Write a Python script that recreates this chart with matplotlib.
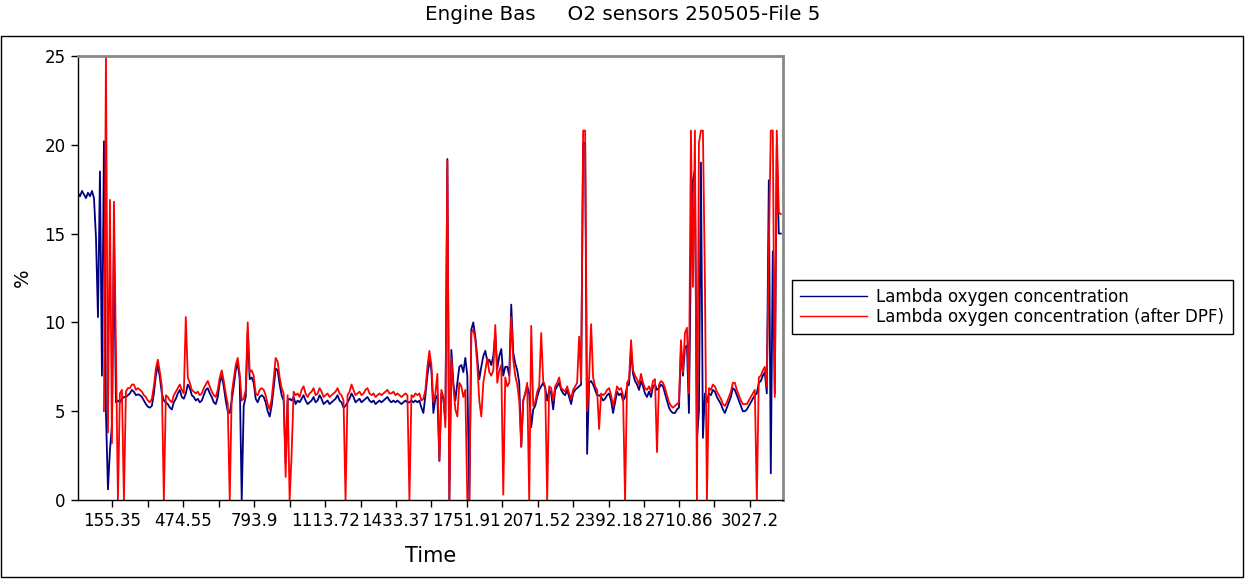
import numpy as np
import matplotlib
matplotlib.use("Agg")
import matplotlib.pyplot as plt
from matplotlib.patches import Rectangle

nan = np.nan

# one sample every 9 s
SAMPLE_PERIOD = 9.0

# Lambda oxygen concentration [%]
lambda_o2 = [
    17.3, 17.1, 17.4, 17.2, 17.0, 17.3, 17.1, 17.4, 17.0, 14.8,
    10.3, 18.5, 7.0, 20.2, 4.9, 0.6, 2.8, 4.2, 14.9, 5.5,
    5.6, 5.5, 5.7, 5.8, 5.8, 5.9, 6.0, 6.2, 6.1, 5.9,
    5.95, 5.9, 5.8, 5.6, 5.4, 5.25, 5.2, 5.3, 6.0, 7.0,
    7.6, 6.9, 6.0, 5.6, 5.5, 5.4, 5.2, 5.1, 5.5, 5.7,
    6.0, 6.2, 5.8, 5.7, 6.0, 6.5, 6.3, 5.9, 5.8, 5.6,
    5.7, 5.5, 5.6, 5.9, 6.2, 6.3, 6.0, 5.8, 5.5, 5.4,
    5.8, 6.6, 7.0, 6.4, 5.6, 5.0, 4.9, 5.6, 6.4, 7.3,
    7.7, 6.8, 0.0, 5.3, 5.8, 9.5, 6.8, 6.9, 6.6, 5.7,
    5.5, 5.8, 5.9, 5.8, 5.5, 5.0, 4.7, 5.3, 6.3, 7.4,
    7.3, 6.5, 5.9, 5.6, 2.1, 5.6, 5.7, 5.6, 5.8, 5.4,
    5.6, 5.5, 5.7, 5.9, 5.6, 5.4, 5.5, 5.6, 5.8, 5.5,
    5.6, 5.9, 5.7, 5.4, 5.5, 5.6, 5.4, 5.5, 5.6, 5.7,
    5.9, 5.6, 5.5, 5.2, 5.3, 5.5, 5.7, 6.0, 5.8, 5.5,
    5.6, 5.7, 5.5, 5.6, 5.7, 5.8, 5.6, 5.5, 5.6, 5.4,
    5.5, 5.6, 5.5, 5.6, 5.7, 5.8, 5.6, 5.5, 5.6, 5.5,
    5.6, 5.5, 5.4, 5.5, 5.6, 5.5, 5.5, 5.6, 5.5, 5.6,
    5.5, 5.6, 5.2, 4.9, 5.9, 7.0, 7.9, 7.3, 4.9, 5.7,
    5.9, 2.2, 6.0, 5.7, 4.5, 19.2, 0.0, 8.45, 6.6, 5.6,
    6.6, 7.5, 7.6, 7.2, 8.0, 7.0, 0.0, 9.6, 10.0, 9.2,
    8.0, 6.8, 7.5, 8.1, 8.4, 7.8, 7.9, 7.6, 8.1, 9.4,
    7.4, 8.1, 8.5, 7.0, 7.5, 7.5, 7.0, 11.0, 8.3, 7.7,
    7.3, 6.6, 3.0, 5.6, 6.0, 6.4, 6.0, 4.1, 5.1, 5.3,
    5.8, 6.2, 6.4, 6.6, 6.3, 5.6, 6.2, 6.0, 5.1, 6.2,
    6.4, 6.6, 6.2, 6.0, 5.9, 6.2, 5.8, 5.4, 6.0, 6.2,
    6.3, 6.4, 6.5, 20.1, 20.1, 2.6, 6.6, 6.7, 6.5, 6.2,
    5.9, 5.9, 5.8, 5.6, 5.7, 5.9, 6.0, 5.6, 4.9, 5.5,
    6.1, 5.9, 6.0, 5.6, 5.8, 6.4, 6.5, 8.5, 7.1, 6.7,
    6.5, 6.2, 6.7, 6.4, 6.0, 5.8, 6.1, 5.8, 6.4, 6.5,
    6.2, 6.3, 6.5, 6.4, 6.0, 5.6, 5.2, 5.0, 4.9, 4.9,
    5.1, 5.2, 8.5, 7.0, 8.6, 8.7, 4.9, 14.0, 18.0, 18.6,
    3.4, 5.0, 19.0, 3.5, 6.0, 5.5, 6.0, 5.9, 6.2, 6.1,
    5.8, 5.6, 5.4, 5.1, 4.9, 5.2, 5.5, 5.8, 6.3, 6.2,
    5.9, 5.6, 5.3, 5.0, 5.0, 5.1, 5.3, 5.5, 5.7, 5.9,
    6.0, 6.6, 6.7, 7.0, 7.2, 6.0, 18.0, 1.5, 14.0, 6.0,
    20.0, 15.0, 15.0,
]

# Lambda oxygen concentration after DPF [%]
lambda_o2_dpf = [
    nan, nan, nan, nan, nan, nan, nan, nan, nan, nan,
    nan, nan, nan, 5.0, 25.0, 3.8, 16.9, 3.2, 16.8, 8.6,
    0.0, 6.0, 6.2, 0.0, 6.1, 6.3, 6.3, 6.5, 6.5, 6.2,
    6.3, 6.2, 6.1, 5.9, 5.8, 5.6, 5.5, 5.7, 6.4, 7.4,
    7.9, 7.2, 6.4, 0.0, 5.9, 5.8, 5.6, 5.5, 5.9, 6.1,
    6.3, 6.5, 6.2, 6.0, 10.3, 6.9, 6.6, 6.2, 6.1, 6.0,
    6.1, 5.9, 6.0, 6.3, 6.5, 6.7, 6.4, 6.1, 5.9, 5.8,
    6.2, 6.9, 7.3, 6.7, 6.0, 5.4, 0.0, 6.0, 6.8, 7.6,
    8.0, 7.1, 5.6, 5.7, 6.2, 10.0, 7.2, 7.3, 7.0, 6.0,
    5.9, 6.2, 6.3, 6.2, 5.9, 5.4, 5.1, 5.7, 6.8, 8.0,
    7.8, 6.9, 6.3, 6.0, 1.3, 5.9, 0.0, 2.6, 6.1, 5.9,
    6.0, 5.8, 6.2, 6.4, 6.0, 5.8, 6.0, 6.1, 6.3, 5.9,
    6.0, 6.3, 6.1, 5.8, 5.9, 6.0, 5.8, 5.9, 6.0, 6.1,
    6.3, 6.0, 5.9, 5.6, 0.0, 5.9, 6.1, 6.5, 6.2, 5.9,
    6.0, 6.1, 5.9, 6.0, 6.2, 6.3, 6.0, 5.9, 6.0, 5.8,
    5.9, 6.0, 5.9, 6.0, 6.1, 6.2, 6.0, 6.0, 6.1, 5.9,
    6.0, 5.9, 5.8, 5.9, 6.0, 5.9, 0.0, 5.9, 5.8, 6.0,
    5.9, 6.0, 5.6, 5.7, 6.2, 7.5, 8.4, 7.6, 5.5, 6.0,
    7.1, 2.2, 6.2, 5.8, 4.1, 19.1, 0.0, 8.0, 6.4, 5.1,
    4.7, 6.6, 6.4, 5.8, 6.2, 0.0, 0.0, 9.4, 9.6, 9.0,
    7.6, 5.6, 4.7, 6.6, 7.3, 8.0, 7.2, 7.0, 7.3, 9.85,
    6.6, 7.3, 7.6, 0.3, 6.9, 6.4, 6.6, 10.3, 7.9, 7.0,
    6.5, 5.6, 3.0, 5.6, 6.0, 6.6, 0.0, 9.8, 5.3, 5.5,
    6.1, 6.4, 9.4, 6.7, 6.4, 0.0, 6.4, 6.3, 5.6, 6.4,
    6.6, 6.9, 6.3, 6.2, 6.1, 6.4, 6.0, 5.7, 6.2, 6.4,
    6.6, 9.2, 6.7, 20.8, 20.8, 5.0, 6.9, 9.9, 6.9, 6.4,
    6.2, 4.0, 6.0, 5.9, 6.0, 6.2, 6.3, 5.9, 5.3, 5.8,
    6.4, 6.2, 6.3, 5.9, 0.0, 6.6, 6.8, 9.0, 7.3, 7.0,
    6.8, 6.5, 7.1, 6.6, 6.3, 6.2, 6.4, 6.1, 6.7, 6.8,
    2.7, 6.5, 6.7, 6.6, 6.3, 5.9, 5.5, 5.3, 5.2, 5.3,
    5.4, 5.5, 9.0, 7.2, 9.4, 9.7, 6.0, 20.8, 12.0, 20.8,
    0.0, 20.1, 20.8, 20.8, 12.3, 0.0, 6.3, 6.2, 6.5, 6.4,
    6.1, 5.9, 5.7, 5.4, 5.3, 5.5, 5.8, 6.1, 6.6, 6.6,
    6.2, 5.9, 5.6, 5.4, 5.4, 5.4, 5.6, 5.8, 6.0, 6.2,
    0.0, 6.9, 7.0, 7.3, 7.5, 6.4, 14.0, 20.8, 20.8, 5.8,
    20.8, 16.2, 16.1,
]

tick_values = [155.35, 474.55, 793.9, 1113.72, 1433.37,
               1751.91, 2071.52, 2392.18, 2710.86, 3027.2]
tick_labels = ["155.35", "474.55", "793.9", "1113.72", "1433.37",
               "1751.91", "2071.52", "2392.18", "2710.86", "3027.2"]

W, H = 1245, 579
fig = plt.figure(figsize=(W / 100, H / 100), dpi=100)
ax = fig.add_axes([78 / W, 1 - 500 / H, (783 - 78) / W, (500 - 56) / H])

t_blue = np.arange(len(lambda_o2)) * SAMPLE_PERIOD
t_red = np.arange(len(lambda_o2_dpf)) * SAMPLE_PERIOD
ax.plot(t_blue, lambda_o2, color="#000080", lw=1.3,
        label="Lambda oxygen concentration")
ax.plot(t_red, np.array(lambda_o2_dpf, dtype=float), color="#ff0000", lw=1.3,
        label="Lambda oxygen concentration (after DPF)")

ax.set_xlim(0, 3178)
ax.set_ylim(0, 25)
ax.set_yticks([0, 5, 10, 15, 20, 25])
ax.set_xticks(tick_values)
ax.set_xticklabels(tick_labels)
minor = (np.array(tick_values[:-1]) + np.array(tick_values[1:])) / 2
ax.set_xticks(minor, minor=True)
ax.tick_params(axis="both", which="both", direction="out", length=5,
               width=1, labelsize=12, pad=4, top=False, right=False)

for side in ["top", "right"]:
    ax.spines[side].set_color("#888888")
    ax.spines[side].set_linewidth(2)
for side in ["left", "bottom"]:
    ax.spines[side].set_color("black")
    ax.spines[side].set_linewidth(1)

ax.set_xlabel("Time", fontsize=15, labelpad=11)
ax.set_ylabel("%", fontsize=14, labelpad=9)

fig.text(0.5, 1 - 14 / H, "Engine Bas     O2 sensors 250505-File 5",
         ha="center", va="center", fontsize=14.3)

leg = ax.legend(loc="center left", bbox_to_anchor=(792 / W, 1 - 307 / H),
                bbox_transform=fig.transFigure, fontsize=12, fancybox=False,
                edgecolor="black", framealpha=1, borderpad=0.5,
                labelspacing=0.1, handlelength=4.0, handletextpad=0.55,
                borderaxespad=0)
leg.get_frame().set_linewidth(1.0)
for line in leg.get_lines():
    line.set_linewidth(1.0)

fig.patches.append(Rectangle((0.5 / W, 2 / H), 1242 / W, 541 / H,
                             transform=fig.transFigure, fill=False,
                             edgecolor="black", lw=1))

plt.savefig("out.png", dpi=100)
